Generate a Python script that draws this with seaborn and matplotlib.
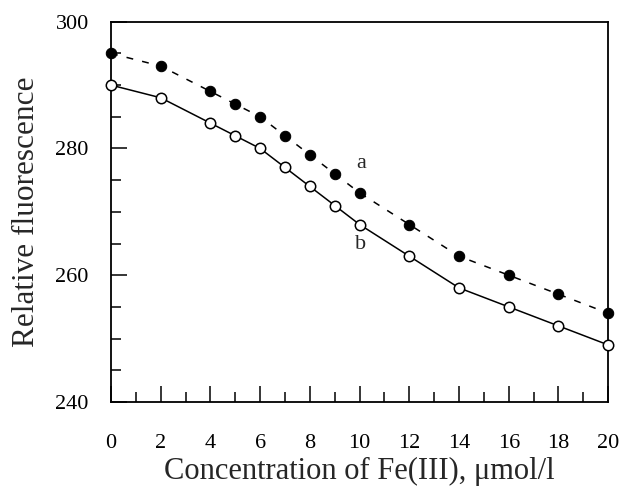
import numpy as np
import pandas as pd
import seaborn as sns
import matplotlib.pyplot as plt
from matplotlib.ticker import MultipleLocator

conc = [0, 2, 4, 5, 6, 7, 8, 9, 10, 12, 14, 16, 18, 20]
fluor_a = [295, 293, 289, 287, 285, 282, 279, 276, 273, 268, 263, 260, 257, 254]
fluor_b = [290, 288, 284, 282, 280, 277, 274, 271, 268, 263, 258, 255, 252, 249]

df = pd.DataFrame({'conc': conc, 'a': fluor_a, 'b': fluor_b})

sns.set_style("white")
plt.rcParams['font.family'] = ['Liberation Serif', 'DejaVu Serif']

fig = plt.figure(figsize=(6.2, 4.87), dpi=100)
ax = fig.add_axes([0.179, 0.1746, 0.802, 0.7808])

# curve a: filled dots, dashed line
sns.lineplot(data=df, x='conc', y='a', ax=ax, color='black', lw=1.1,
             linestyle=(0, (4.5, 6)), marker='o', markersize=7.5,
             markerfacecolor='black', markeredgecolor='black', zorder=3,
             clip_on=False)
# curve b: open circles, solid line
sns.lineplot(data=df, x='conc', y='b', ax=ax, color='black', lw=1.1,
             marker='o', markersize=7.5, markerfacecolor='white',
             markeredgecolor='black', markeredgewidth=1.1, zorder=3,
             clip_on=False)

ax.text(10.05, 277.7, 'a', fontsize=16, ha='center', va='center')
ax.text(10.05, 264.8, 'b', fontsize=16, ha='center', va='center')

ax.set_xlim(0, 20)
ax.set_ylim(240, 300)
ax.xaxis.set_major_locator(MultipleLocator(2))
ax.xaxis.set_minor_locator(MultipleLocator(1))
ax.yaxis.set_major_locator(MultipleLocator(20))
ax.yaxis.set_minor_locator(MultipleLocator(5))
ax.tick_params(which='both', direction='in', top=False, right=False,
               bottom=True, left=True, width=1.1, labelsize=16,
               colors='black')
ax.tick_params(which='major', length=11.5)
ax.tick_params(which='minor', length=7.5)
ax.tick_params(axis='x', which='both', pad=23)
ax.tick_params(axis='y', which='both', pad=16)

for s in ax.spines.values():
    s.set_color('black')
    s.set_linewidth(1.3)
    s.set_visible(True)

ax.set_xlabel('Concentration of Fe(III), \u03bcmol/l', fontsize=22, labelpad=3)
ax.set_ylabel('Relative fluorescence', fontsize=22.5, labelpad=10)

fig.savefig('out.png', dpi=100)
